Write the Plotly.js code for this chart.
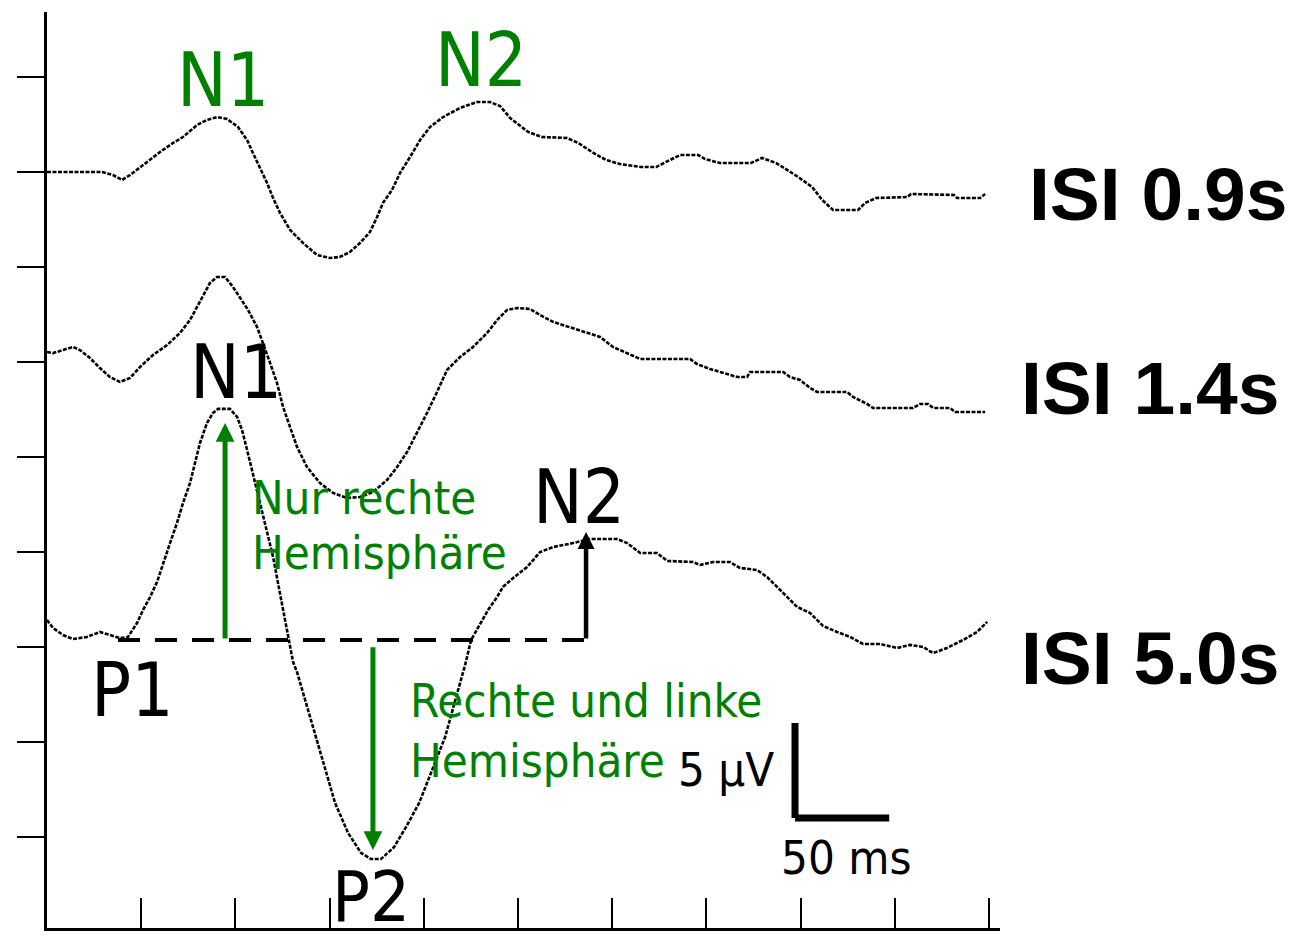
<!DOCTYPE html>
<html>
<head>
<meta charset="utf-8">
<script src="https://cdn.plot.ly/plotly-3.0.1.min.js"></script>
<style>html,body{margin:0;padding:0;background:#fff;}#chart{width:1297px;height:937px;}</style>
</head>
<body>
<div id="chart"></div>
<script>
// time axis in ms, amplitude axis in µV (vertical offsets of the stacked traces included)
const isi09Time = [0,29.2,35.0,39.8,44.1,51.0,60.0,66.9,72.2,79.6,84.9,90.2,95.5,101.4,106.2,109.3,113.1,116.8,120.0,123.7,129.0,135.9,143.3,150.2,155.5,160.8,166.1,171.4,175.2,178.3,183.1,187.4,192.7,198.0,203.3,210.2,219.2,228.2,235.1,240.5,245.8,255.3,262.7,276.0,281.9,289.3,296.7,304.1,315.3,323.3,328.6,336.0,345.6,349.3,357.2,373.7,379.5,387.0,392.8,398.6,406.1,411.4,417.2,430.5,434.2,440.0,456.5,458.6,481.4,483.0,495.2,497.9];
const isi09Amp = [25.0,25.0,24.84,24.58,24.84,25.37,26.05,26.53,26.84,27.47,27.74,27.89,27.79,27.37,26.68,26.0,25.21,24.42,23.63,22.84,21.95,21.26,20.63,20.47,20.53,20.79,21.26,21.84,22.63,23.37,24.05,24.95,25.79,26.68,27.37,27.89,28.37,28.68,28.68,28.47,27.84,27.11,26.84,26.79,26.53,26.05,25.63,25.42,25.26,25.26,25.53,25.89,25.89,25.68,25.47,25.47,25.74,25.47,25.11,24.74,24.21,23.53,23.0,23.0,23.37,23.63,23.68,23.84,23.79,23.63,23.63,23.84];

const isi14Time = [0,3.2,8.5,13.8,17.5,22.8,28.1,33.4,38.7,44.1,49.4,56.3,63.7,70.6,75.9,81.2,86.5,90.2,94.5,98.7,102.4,106.7,111.5,114.7,118.4,122.1,125.3,129.0,132.7,138.0,144.9,151.8,159.2,166.1,173.0,180.5,185.8,191.1,196.4,201.7,207.0,212.3,219.2,226.1,233.6,238.9,244.2,249.5,256.4,261.7,268.6,279.2,286.6,293.5,300.4,307.9,314.8,341.3,345.0,351.9,357.2,366.3,371.6,373.1,390.7,394.4,399.7,405.0,408.7,424.6,427.8,435.3,438.4,459.7,463.4,467.6,470.3,479.3,482.0,497.9];
const isi14Amp = [15.53,15.47,15.63,15.79,15.63,15.21,14.68,14.21,13.95,14.16,14.74,15.37,15.89,16.53,17.21,18.16,19.16,19.47,19.47,18.95,18.42,17.74,16.84,16.0,14.95,13.89,12.63,11.58,10.53,9.47,8.63,8.11,7.84,7.89,8.16,8.79,9.47,10.26,11.26,12.32,13.42,14.58,15.26,15.79,16.53,17.21,17.74,17.84,17.79,17.47,17.11,16.79,16.53,16.32,15.79,15.47,15.16,15.16,14.89,14.63,14.47,14.21,14.21,14.47,14.47,14.21,14.05,13.63,13.42,13.42,13.16,12.79,12.58,12.58,12.79,12.79,12.58,12.58,12.37,12.37];

const isi50Time = [0,3.2,8.5,13.8,21.2,28.1,33.4,38.7,43.0,47.8,51.0,54.7,58.4,61.6,65.3,69.0,72.2,75.9,78.6,81.2,84.9,88.1,90.8,97.1,100.9,103.5,106.2,108.8,111.5,114.1,116.8,120.0,122.6,125.3,127.9,130.6,132.7,137.5,142.8,148.1,152.9,159.8,166.7,172.0,177.3,184.2,190.6,197.5,204.4,211.3,218.2,221.9,225.1,229.8,234.1,238.9,242.0,247.4,254.8,261.7,268.6,279.2,288.2,302.6,307.9,314.8,323.8,329.1,342.9,346.6,353.5,362.5,367.8,376.9,382.2,387.5,392.8,398.1,405.0,411.9,419.3,426.2,433.1,442.2,451.2,458.1,465.0,470.3,477.7,486.2,493.6,499.0];
const isi50Amp = [1.42,1.0,0.63,0.42,0.53,0.79,0.63,0.47,0.53,1.26,1.95,2.63,3.42,4.42,5.47,6.53,7.58,8.63,9.68,10.74,11.79,12.32,12.53,12.53,12.11,11.42,10.37,9.32,8.26,7.21,6.0,4.74,3.37,1.95,0.53,-0.79,-1.32,-2.95,-4.74,-6.47,-8.21,-9.79,-10.84,-11.16,-11.16,-10.53,-9.47,-8.21,-6.47,-4.74,-2.26,-0.95,0.37,1.16,1.95,2.63,3.16,3.63,4.21,5.0,5.26,5.47,5.68,5.68,5.47,4.95,4.95,4.53,4.47,4.32,4.47,4.47,4.16,4.05,3.68,3.16,2.63,2.11,1.79,1.11,0.79,0.53,0.16,0.16,-0.05,0.11,0,-0.32,-0.05,0.37,0.79,1.32];

const isiLabels = ['ISI 0.9s', 'ISI 1.4s', 'ISI 5.0s'];
const isiLabelLevel = [23.84, 13.63, -0.58];

// peak annotations: text, time ms, amplitude µV, colour
const peakLabels = ['N1', 'N2', 'N1', 'N2', 'P1', 'P2'];
const peakTime = [93.2, 230.4, 100.1, 282.4, 45.4, 172.2];
const peakAmp = [29.84, 30.87, 14.45, 7.87, -2.24, -13.15];
const peakColor = ['#008000', '#008000', '#000000', '#000000', '#000000', '#000000'];

// ISI 5.0s measurement marks
const p1Level = 0.37;          // P1 baseline (µV)
const baselineFrom = 37.7;     // ms
const n1Time = 94.5, n1Tip = 11.79;
const p2Time = 173.0, p2Tip = -10.68;
const n2Time = 286.1, n2Tip = 6.05;

// scale bar
const scaleT0 = 397, scaleV0 = -9.0, scaleDt = 50, scaleDv = 5;

const xTicks = [50,100,150,200,250,300,350,400,450,500];
const yTicks = [-10,-5,0,5,10,15,20,25,30];

const traceStyle = {color: '#000', width: 2.6, dash: '4px,1.5px'};
const data = [
  {x: isi09Time, y: isi09Amp, mode: 'lines', line: traceStyle, hoverinfo: 'skip'},
  {x: isi14Time, y: isi14Amp, mode: 'lines', line: traceStyle, hoverinfo: 'skip'},
  {x: isi50Time, y: isi50Amp, mode: 'lines', line: traceStyle, hoverinfo: 'skip'}
];

const labelFont = 'DejaVu Sans Condensed, Liberation Sans Narrow, Liberation Sans, sans-serif';
const green = '#008000';
const annotations = [];
peakLabels.forEach((t, i) => annotations.push({
  x: peakTime[i], y: peakAmp[i], xref: 'x', yref: 'y', text: t, showarrow: false,
  xanchor: 'center', yanchor: 'middle',
  font: {family: labelFont, size: (t === 'P2' ? 70 : 74), color: peakColor[i]}
}));
const greenTexts = [['Nur rechte', 107.7, 7.87], ['Hemisphäre', 107.7, 4.95], ['Rechte und linke', 191.6, -2.82], ['Hemisphäre', 191.6, -5.95]];
greenTexts.forEach(g => annotations.push({
  x: g[1], y: g[2], xref: 'x', yref: 'y', text: g[0], showarrow: false,
  xanchor: 'left', yanchor: 'middle', font: {family: labelFont, size: 47, color: green}
}));
annotations.push({x: 360.4, y: -6.47, xref: 'x', yref: 'y', text: '5 µV', showarrow: false,
  xanchor: 'center', yanchor: 'middle', font: {family: labelFont, size: 47, color: '#000'}});
annotations.push({x: 424.1, y: -11.08, xref: 'x', yref: 'y', text: '50 ms', showarrow: false,
  xanchor: 'center', yanchor: 'middle', font: {family: labelFont, size: 47, color: '#000'}});
const isiX = [1.0285, 1.02, 1.02];
isiLabels.forEach((t, i) => annotations.push({
  x: isiX[i], y: isiLabelLevel[i], xref: 'paper', yref: 'y', text: '<b>' + t + '</b>', showarrow: false,
  xanchor: 'left', yanchor: 'middle', font: {family: 'Liberation Sans, Arial, sans-serif', size: 75, color: '#000'}
}));
// arrows
annotations.push({x: n1Time, y: n1Tip, ax: n1Time, ay: p1Level, xref: 'x', yref: 'y', axref: 'x', ayref: 'y',
  text: '', showarrow: true, arrowhead: 2, arrowsize: 0.75, arrowwidth: 5, arrowcolor: green, standoff: 0});
annotations.push({x: p2Time, y: p2Tip, ax: p2Time, ay: p1Level - 0.3, xref: 'x', yref: 'y', axref: 'x', ayref: 'y',
  text: '', showarrow: true, arrowhead: 2, arrowsize: 0.75, arrowwidth: 5, arrowcolor: green, standoff: 0});
annotations.push({x: n2Time, y: n2Tip, ax: n2Time, ay: p1Level, xref: 'x', yref: 'y', axref: 'x', ayref: 'y',
  text: '', showarrow: true, arrowhead: 2, arrowsize: 0.75, arrowwidth: 4.5, arrowcolor: '#000', standoff: 0});

const shapes = [
  {type: 'line', xref: 'x', yref: 'y', x0: baselineFrom, x1: n2Time, y0: p1Level, y1: p1Level,
   line: {color: '#000', width: 4, dash: '22px,15px'}},
  {type: 'line', xref: 'x', yref: 'y', x0: scaleT0, x1: scaleT0, y0: scaleV0, y1: scaleV0 + scaleDv,
   line: {color: '#000', width: 7}},
  {type: 'line', xref: 'x', yref: 'y', x0: scaleT0, x1: scaleT0 + scaleDt, y0: scaleV0, y1: scaleV0,
   line: {color: '#000', width: 7}}
];

const layout = {
  width: 1297, height: 937,
  margin: {l: 47, r: 297, t: 12, b: 9, pad: 0},
  paper_bgcolor: '#fff', plot_bgcolor: '#fff',
  showlegend: false,
  xaxis: {range: [0, 505.8], tickvals: xTicks, ticks: 'inside', ticklen: 30, tickwidth: 2, tickcolor: '#000',
          showticklabels: false, showgrid: false, zeroline: false, showline: true, linecolor: '#000', linewidth: 3},
  yaxis: {range: [-14.79, 33.42], tickvals: yTicks, ticks: 'outside', ticklen: 27, tickwidth: 2.5, tickcolor: '#000',
          showticklabels: false, showgrid: false, zeroline: false, showline: true, linecolor: '#000', linewidth: 3},
  annotations: annotations,
  shapes: shapes
};
Plotly.newPlot('chart', data, layout, {staticPlot: true, displayModeBar: false});
</script>
</body>
</html>
